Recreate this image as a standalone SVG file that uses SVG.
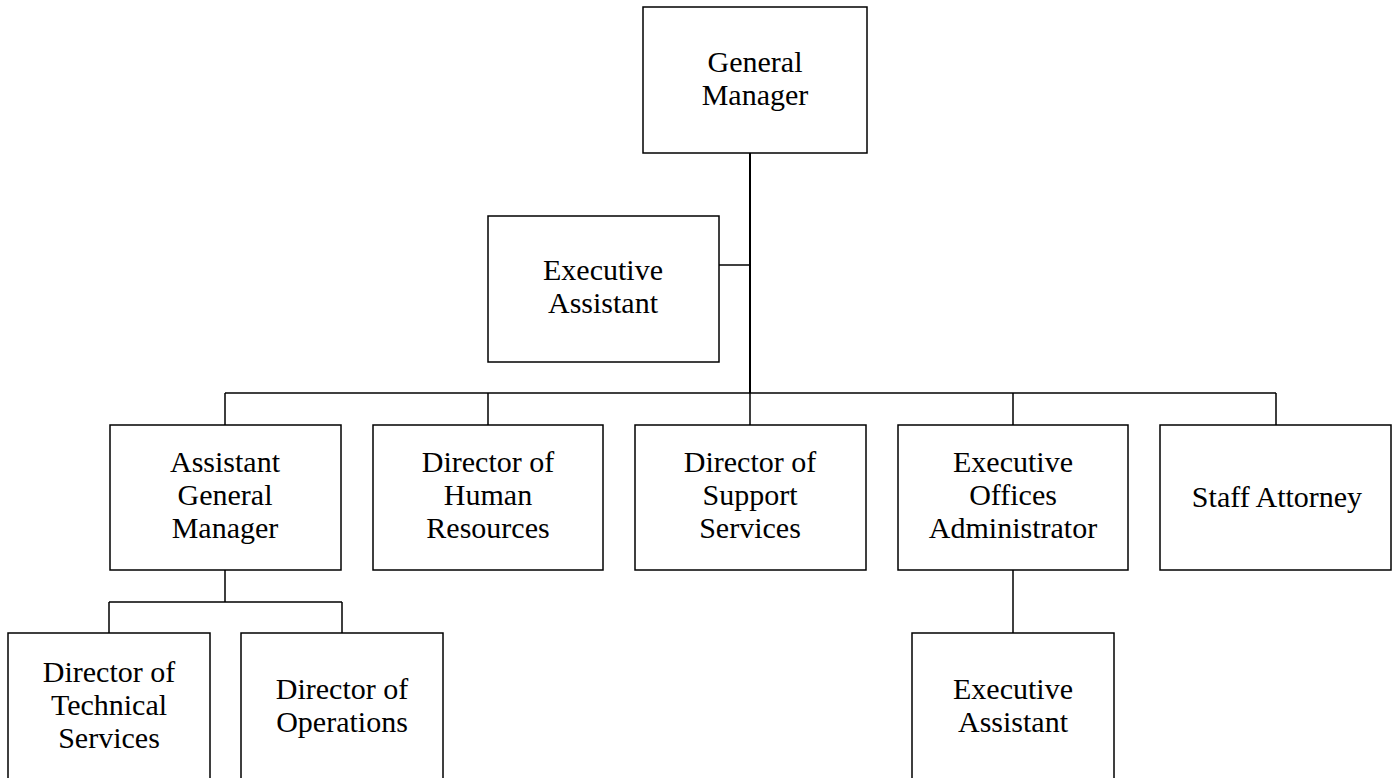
<svg xmlns="http://www.w3.org/2000/svg" width="1393" height="778" viewBox="0 0 1393 778">
  <style>
    .box { fill: #ffffff; stroke: #000000; stroke-width: 1.5; }
    .lbl { font-family: "Liberation Serif", "Times New Roman", serif; font-size: 30px; fill: #000000; text-anchor: middle; }
    .wire { fill: none; stroke: #000000; stroke-width: 1.5; }
    .trunk { fill: none; stroke: #000000; stroke-width: 2; }
  </style>
  <rect width="1393" height="778" fill="#ffffff"/>

  <!-- connectors -->
  <g id="connectors">
    <path class="trunk" d="M750 153 V393"/>
    <path class="wire" d="M719 265 H750"/>
    <path class="wire" d="M225 393 H1276"/>
    <path class="wire" d="M225 393 V425 M488 393 V425 M750 393 V425 M1013 393 V425 M1276 393 V425"/>
    <path class="wire" d="M225 570 V602 M109 602 H342 M109 602 V633 M342 602 V633"/>
    <path class="wire" d="M1013 570 V633"/>
  </g>

  <g id="general-manager">
    <rect class="box" x="643" y="7" width="224" height="146"/>
    <text class="lbl" x="755" y="72">General</text>
    <text class="lbl" x="755" y="105">Manager</text>
  </g>

  <g id="executive-assistant-gm">
    <rect class="box" x="488" y="216" width="231" height="146"/>
    <text class="lbl" x="603" y="280">Executive</text>
    <text class="lbl" x="603" y="313">Assistant</text>
  </g>

  <g id="assistant-general-manager">
    <rect class="box" x="110" y="425" width="231" height="145"/>
    <text class="lbl" x="225" y="472">Assistant</text>
    <text class="lbl" x="225" y="505">General</text>
    <text class="lbl" x="225" y="538">Manager</text>
  </g>

  <g id="director-human-resources">
    <rect class="box" x="373" y="425" width="230" height="145"/>
    <text class="lbl" x="488" y="472">Director of</text>
    <text class="lbl" x="488" y="505">Human</text>
    <text class="lbl" x="488" y="538">Resources</text>
  </g>

  <g id="director-support-services">
    <rect class="box" x="635" y="425" width="231" height="145"/>
    <text class="lbl" x="750" y="472">Director of</text>
    <text class="lbl" x="750" y="505">Support</text>
    <text class="lbl" x="750" y="538">Services</text>
  </g>

  <g id="executive-offices-administrator">
    <rect class="box" x="898" y="425" width="230" height="145"/>
    <text class="lbl" x="1013" y="472">Executive</text>
    <text class="lbl" x="1013" y="505">Offices</text>
    <text class="lbl" x="1013" y="538">Administrator</text>
  </g>

  <g id="staff-attorney">
    <rect class="box" x="1160" y="425" width="231" height="145"/>
    <text class="lbl" x="1277" y="507">Staff Attorney</text>
  </g>

  <g id="director-technical-services">
    <rect class="box" x="8" y="633" width="202" height="150"/>
    <text class="lbl" x="109" y="682">Director of</text>
    <text class="lbl" x="109" y="715">Technical</text>
    <text class="lbl" x="109" y="748">Services</text>
  </g>

  <g id="director-operations">
    <rect class="box" x="241" y="633" width="202" height="150"/>
    <text class="lbl" x="342" y="699">Director of</text>
    <text class="lbl" x="342" y="732">Operations</text>
  </g>

  <g id="executive-assistant-eoa">
    <rect class="box" x="912" y="633" width="202" height="150"/>
    <text class="lbl" x="1013" y="699">Executive</text>
    <text class="lbl" x="1013" y="732">Assistant</text>
  </g>
</svg>
